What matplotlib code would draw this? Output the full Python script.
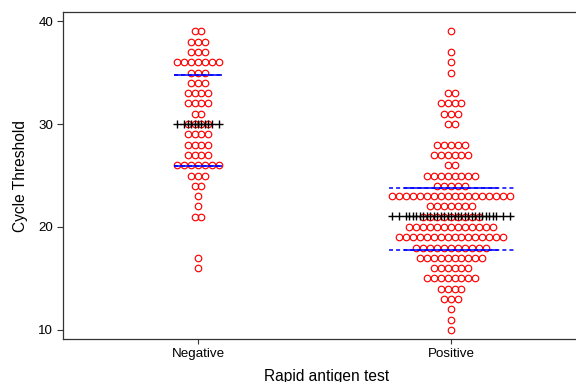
import matplotlib
matplotlib.use("Agg")
import matplotlib.pyplot as plt
import numpy as np

# ---------------- data ----------------
groups = ["Negative", "Positive"]
neg_ct = [39, 38, 37, 36, 35, 34, 33, 32, 31, 30, 29, 28, 27, 26, 25, 24, 23, 22, 21, 17, 16]
neg_n = [2, 3, 3, 7, 3, 3, 4, 4, 2, 4, 4, 4, 4, 7, 3, 2, 1, 1, 2, 1, 1]
pos_ct = [39, 37, 36, 35, 33, 32, 31, 30, 28, 27, 26, 25, 24, 23, 22, 21, 20, 19, 18, 17,
          16, 15, 14, 13, 12, 11, 10]
pos_n = [1, 1, 1, 1, 2, 4, 3, 2, 5, 6, 2, 8, 5, 18, 7, 9, 13, 16, 11, 10, 6, 8, 4, 3, 1, 1, 1]
centre_line = [30.0, 21.1]   # line of plus signs
upper_line = [34.8, 23.8]    # blue upper lines
lower_line = [25.9, 17.8]    # blue lower lines

# ---------------- style ----------------
plt.rcParams['font.family'] = ['Liberation Sans', 'DejaVu Sans']
plt.rcParams['lines.scale_dashes'] = False
SPACING = 0.0274        # horizontal distance between dots (x data units)
RED = '#ff0000'
BLUE = '#0000ff'
SPINE = '#333333'

fig = plt.figure(figsize=(5.76, 3.82), dpi=100)
W, H = 576, 382
ax = fig.add_axes([63 / W, 43 / H, (590 - 63) / W, (339 - 12.3) / H])

data = [(neg_ct, neg_n), (pos_ct, pos_n)]
solid_half = [0.093, 0.186]
for gi, (cts, ns) in enumerate(data):
    xc = gi + 1
    xs, ys = [], []
    offsets = set()
    for ct, n in zip(cts, ns):
        for k in range(n):
            off = k - (n - 1) / 2
            offsets.add(off)
            xs.append(xc + off * SPACING)
            ys.append(ct)
    ax.plot(xs, ys, linestyle='none', marker='o', ms=4.7, mfc='none', mec=RED,
            mew=0.85, zorder=2)
    maxoff = max(offsets)
    dash_half = maxoff * SPACING + 0.014
    for yv in (upper_line[gi], lower_line[gi]):
        ax.plot([xc - dash_half, xc + dash_half], [yv, yv], color=BLUE, lw=1.1,
                linestyle=(0, (2.9, 2.2)), zorder=3)
        ax.plot([xc - solid_half[gi], xc + solid_half[gi]], [yv, yv], color=BLUE,
                lw=1.1, zorder=3, solid_capstyle='butt')
    offs = sorted(offsets)
    ax.plot([xc + o * SPACING for o in offs], [centre_line[gi]] * len(offs),
            linestyle='none', marker='+', ms=5.8, mew=1.0, color='black', zorder=4)

ax.set_xlim(0.4664, 2.549)
ax.set_ylim(9.126, 40.845)
ax.set_xticks([1, 2])
ax.set_xticklabels(groups)
ax.set_yticks([10, 20, 30, 40])
ax.tick_params(axis='both', direction='out', length=4.2, width=0.8, color=SPINE,
               labelsize=9.6, pad=3)
ax.tick_params(axis='x', length=3.6)
ax.set_ylabel('Cycle Threshold', fontsize=11.2, labelpad=7)
ax.set_xlabel('Rapid antigen test', fontsize=11.2, labelpad=6)
for s in ['left', 'bottom', 'top']:
    ax.spines[s].set_color(SPINE)
    ax.spines[s].set_linewidth(0.9)
ax.spines['right'].set_visible(False)

fig.savefig('out.png', dpi=100)
